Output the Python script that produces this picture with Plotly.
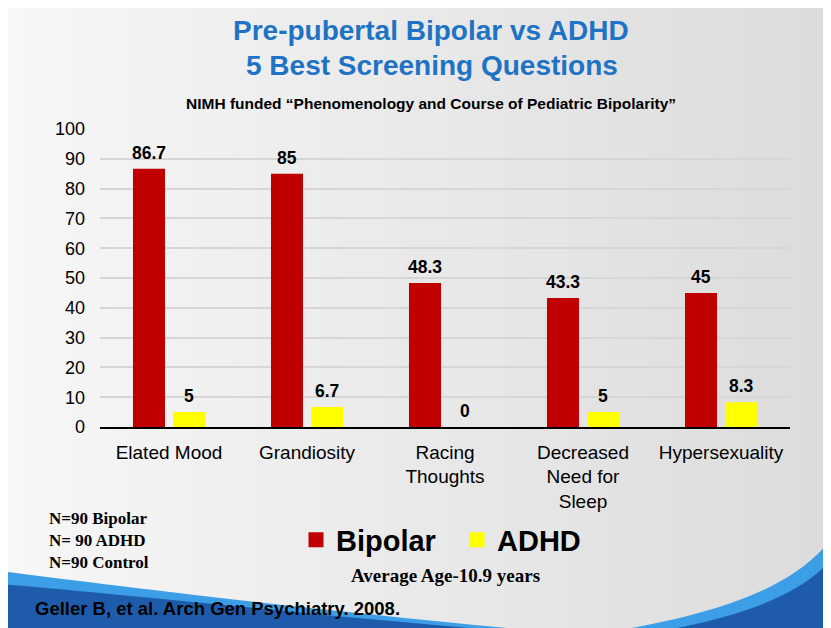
import plotly.graph_objects as go

categories = ["Elated Mood", "Grandiosity", "Racing<br>Thoughts", "Decreased<br>Need for<br>Sleep", "Hypersexuality"]
bipolar = [86.7, 85, 48.3, 43.3, 45]
adhd = [5, 6.7, 0, 5, 8.3]
y_ticks = [0, 10, 20, 30, 40, 50, 60, 70, 80, 90, 100]

W, H = 831, 628
OFF = 8  # page body margin
L, R, T, B = 100, 790, 129, 427  # plot area in screen pixels


def px(p):
    return (p - L) / (R - L)


def py(p):
    return (B - p) / (B - T)


def path(pts_cmds):
    out = []
    for cmd, pts in pts_cmds:
        coords = " ".join(f"{px(x):.4f},{py(y):.4f}" for x, y in pts)
        out.append(f"{cmd}{coords}")
    return " ".join(out) + " Z"


fig = go.Figure()
fig.add_trace(go.Bar(x=categories, y=bipolar, name="Bipolar", marker=dict(color="#C00000", line=dict(width=0)), showlegend=False))
fig.add_trace(go.Bar(x=categories, y=adhd, name="ADHD", marker=dict(color="#FFFF00", line=dict(width=0)), showlegend=False))
# legend entries
fig.add_trace(go.Scatter(x=[None], y=[None], mode="markers", name="Bipolar",
                         marker=dict(symbol="square", size=15, color="#C00000")))
fig.add_trace(go.Scatter(x=[None], y=[None], mode="markers", name="ADHD",
                         marker=dict(symbol="square", size=15, color="#FFFF00")))

shapes = []
# background gradient strips
n = 40
x_start, x_end = OFF, W + OFF + 2
for i in range(n):
    t = i / (n - 1)
    c = int(247 - 27 * t)
    xa = x_start + (x_end - x_start) * i / n
    xb = x_start + (x_end - x_start) * (i + 1) / n + 1
    shapes.append(dict(type="rect", xref="paper", yref="paper",
                       x0=px(xa), x1=px(xb), y0=py(H + OFF + 2), y1=py(0),
                       fillcolor=f"rgb({c},{c},{c})", line=dict(width=0), layer="below"))
# left wave: light band
shapes.append(dict(type="path", xref="paper", yref="paper", layer="below",
                   path=path([("M", [(0, 571)]), ("C", [(150, 590), (350, 615), (640, 640)]),
                              ("L", [(0, 640)])]),
                   fillcolor="#3C9EE6", line=dict(width=0)))
# left wave: dark
shapes.append(dict(type="path", xref="paper", yref="paper", layer="below",
                   path=path([("M", [(0, 584)]), ("C", [(150, 596), (350, 620), (620, 640)]),
                              ("L", [(0, 640)])]),
                   fillcolor="#1E5CAB", line=dict(width=0)))
# right wave: light
shapes.append(dict(type="path", xref="paper", yref="paper", layer="below",
                   path=path([("M", [(845, 515)]), ("C", [(812, 590), (710, 618), (560, 640)]),
                              ("L", [(845, 640)])]),
                   fillcolor="#3C9EE6", line=dict(width=0)))
shapes.append(dict(type="path", xref="paper", yref="paper", layer="below",
                   path=path([("M", [(845, 540)]), ("C", [(812, 600), (725, 622), (610, 640)]),
                              ("L", [(845, 640)])]),
                   fillcolor="#1E5CAB", line=dict(width=0)))

annotations = []
lab_font = dict(family="Liberation Sans, Arial, sans-serif", size=17.5, color="black", weight="bold")
for cat, v in zip(categories, bipolar):
    annotations.append(dict(x=cat, y=v, xref="x", yref="y", text=f"{v:g}", showarrow=False,
                            xshift=-20, yshift=4, yanchor="bottom", font=lab_font))
for cat, v in zip(categories, adhd):
    annotations.append(dict(x=cat, y=v, xref="x", yref="y", text=f"{v:g}", showarrow=False,
                            xshift=20, yshift=4, yanchor="bottom", font=lab_font))

title_font = dict(family="Liberation Sans, Arial, sans-serif", size=28, color="#1F73C4", weight="bold")
annotations.append(dict(xref="paper", yref="paper", x=px(431), y=py(30), text="Pre-pubertal Bipolar vs ADHD",
                        showarrow=False, font=title_font, xanchor="center", yanchor="middle"))
annotations.append(dict(xref="paper", yref="paper", x=px(432), y=py(65), text="5 Best Screening Questions",
                        showarrow=False, font=title_font, xanchor="center", yanchor="middle"))
annotations.append(dict(xref="paper", yref="paper", x=px(431), y=py(103),
                        text="NIMH funded \u201cPhenomenology and Course of Pediatric Bipolarity\u201d",
                        showarrow=False, xanchor="center", yanchor="middle",
                        font=dict(family="Liberation Sans, Arial, sans-serif", size=15.5, color="black", weight="bold")))
annotations.append(dict(xref="paper", yref="paper", x=px(47), y=py(540),
                        text="N=90 Bipolar<br>N= 90 ADHD<br>N=90 Control", align="left",
                        showarrow=False, xanchor="left", yanchor="middle",
                        font=dict(family="Liberation Serif, Times New Roman, serif", size=17, color="black", weight="bold")))
annotations.append(dict(xref="paper", yref="paper", x=px(445), y=py(575), text="Average Age-10.9 years",
                        showarrow=False, xanchor="center", yanchor="middle",
                        font=dict(family="Liberation Serif, Times New Roman, serif", size=19, color="black", weight="bold")))
annotations.append(dict(xref="paper", yref="paper", x=px(33), y=py(608),
                        text="Geller B, et al. Arch Gen Psychiatry. 2008.",
                        showarrow=False, xanchor="left", yanchor="middle",
                        font=dict(family="Liberation Sans, Arial, sans-serif", size=18.5, color="black", weight="bold")))

fig.update_layout(
    width=W, height=H,
    margin=dict(l=L - OFF, r=W - (R - OFF), t=T - OFF, b=H - (B - OFF), pad=0),
    paper_bgcolor="#eeeeee", plot_bgcolor="rgba(0,0,0,0)",
    barmode="group", bargap=0.42, bargroupgap=0.2,
    shapes=shapes, annotations=annotations,
    showlegend=True,
    legend=dict(orientation="h", xref="paper", yref="paper", x=px(296), y=py(540),
                xanchor="left", yanchor="middle", bgcolor="rgba(0,0,0,0)", entrywidth=116,
                font=dict(family="Liberation Sans, Arial, sans-serif", size=29, color="black", weight="bold"),
                itemclick=False),
    font=dict(family="Liberation Sans, Arial, sans-serif", color="black"),
)
fig.update_yaxes(range=[0, 100], tickvals=y_ticks, showgrid=True, gridcolor="#d6d6d6", gridwidth=1.5,
                 zeroline=False, showline=False, ticks="", ticklabelstandoff=14,
                 tickfont=dict(size=18, color="black"))
fig.update_xaxes(showline=True, linecolor="black", linewidth=1.5, ticks="", ticklabelstandoff=7,
                 tickfont=dict(size=19, color="black"), tickangle=0)

fig.write_html("out.html")
